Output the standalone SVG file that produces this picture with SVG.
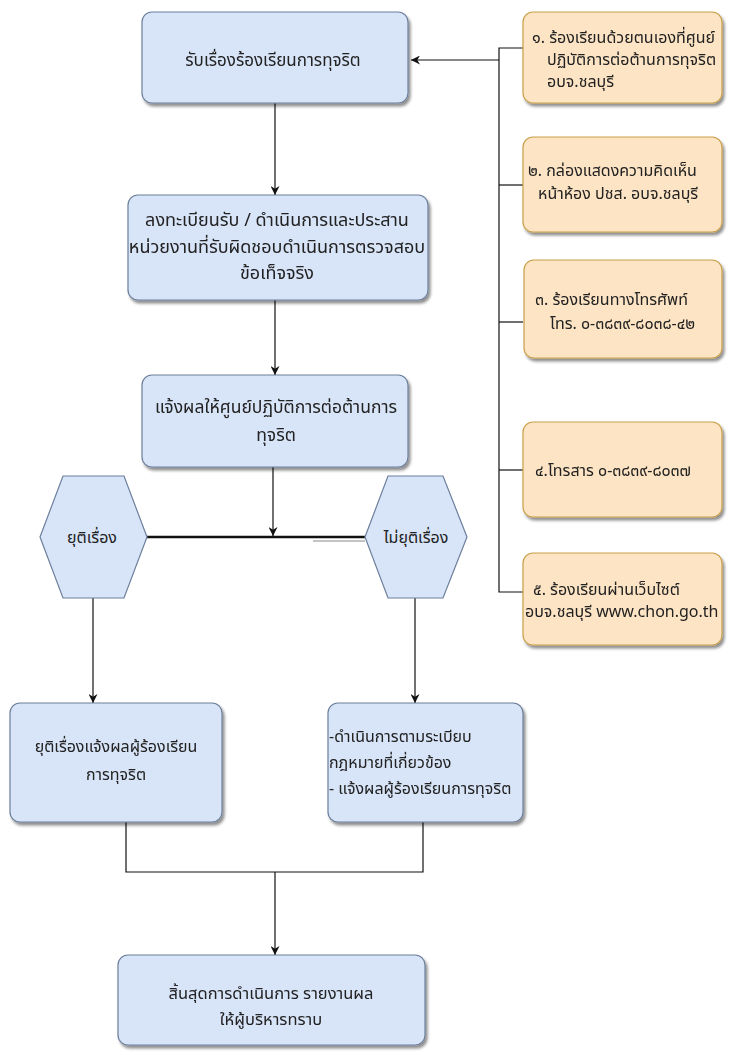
<svg xmlns="http://www.w3.org/2000/svg" width="731" height="1055" viewBox="0 0 731 1055">
<style>
.b{fill:#d8e5f8;stroke:#6c7f9c;stroke-width:1.2}
.o{fill:#fde4c4;stroke:#c9a04a;stroke-width:1.2}
.t{font-family:"Noto Sans Thai","Tahoma","Loma","Garuda","DejaVu Sans",sans-serif;font-size:16px;fill:#222}
.c{stroke:#111;stroke-width:1.2;fill:none}
</style>
<defs>
<filter id="sh" x="-10%" y="-10%" width="125%" height="130%">
<feGaussianBlur in="SourceAlpha" stdDeviation="1.5"/>
<feOffset dx="2" dy="3" result="o"/>
<feComponentTransfer><feFuncA type="linear" slope="0.45"/></feComponentTransfer>
<feMerge><feMergeNode/><feMergeNode in="SourceGraphic"/></feMerge>
</filter>
<marker id="ar" viewBox="0 0 10 10" refX="10" refY="5" markerWidth="9" markerHeight="9" orient="auto" markerUnits="userSpaceOnUse">
<path d="M0,0 L10,5 L0,10 L3,5 z" fill="#111"/>
</marker>
</defs>
<rect width="731" height="1055" fill="#fff"/>
<g id="connectors">
<path class="c" d="M499,60 L411,60" marker-end="url(#ar)"/>
<path class="c" d="M523,48 L499,48 L499,592 L523,592"/>
<path class="c" d="M499,185 L523,185"/>
<path class="c" d="M499,322 L523,322"/>
<path class="c" d="M499,470 L523,470"/>
<path class="c" d="M275,103 L275,195" marker-end="url(#ar)"/>
<path class="c" d="M275,300 L275,375" marker-end="url(#ar)"/>
<path class="c" d="M273,467 L273,536" marker-end="url(#ar)"/>
<path d="M147,537 L365,537" stroke="#111" stroke-width="2.5"/>
<path d="M313,541 L365,541" stroke="#888" stroke-width="1"/>
<path class="c" d="M93,598 L93,703" marker-end="url(#ar)"/>
<path class="c" d="M415,598 L415,703" marker-end="url(#ar)"/>
<path class="c" d="M126,822 L126,872 L423,872 L423,822"/>
<path class="c" d="M275,872 L275,955" marker-end="url(#ar)"/>
</g>
<g id="n1" filter="url(#sh)">
<rect class="b" x="142" y="12" width="266" height="91" rx="10"/>
<text class="t" x="273" y="66" text-anchor="middle" style="font-size:17px">รับเรื่องร้องเรียนการทุจริต</text>
</g>
<g id="n2" filter="url(#sh)">
<rect class="b" x="128" y="195" width="300" height="105" rx="10"/>
<text class="t" text-anchor="middle" style="font-size:18px"><tspan x="277" y="226">ลงทะเบียนรับ / ดำเนินการและประสาน</tspan><tspan x="277" y="253">หน่วยงานที่รับผิดชอบดำเนินการตรวจสอบ</tspan><tspan x="277" y="279">ข้อเท็จจริง</tspan></text>
</g>
<g id="n3" filter="url(#sh)">
<rect class="b" x="142" y="375" width="266" height="92" rx="10"/>
<text class="t" text-anchor="middle" style="font-size:17.5px"><tspan x="276" y="413">แจ้งผลให้ศูนย์ปฏิบัติการต่อต้านการ</tspan><tspan x="276" y="441">ทุจริต</tspan></text>
</g>
<g id="h1">
<polygon class="b" points="40,537 63,476 124,476 147,537 124,598 63,598"/>
<text class="t" x="92" y="543" text-anchor="middle">ยุติเรื่อง</text>
</g>
<g id="h2">
<polygon class="b" points="365,537 388,476 443,476 467,537 443,598 388,598"/>
<text class="t" x="416" y="543" text-anchor="middle">ไม่ยุติเรื่อง</text>
</g>
<g id="n4" filter="url(#sh)">
<rect class="b" x="10" y="703" width="212" height="119" rx="10"/>
<text class="t" text-anchor="middle"><tspan x="116" y="752">ยุติเรื่องแจ้งผลผู้ร้องเรียน</tspan><tspan x="116" y="780">การทุจริต</tspan></text>
</g>
<g id="n5" filter="url(#sh)">
<rect class="b" x="328" y="703" width="195" height="119" rx="10"/>
<text class="t"><tspan x="329" y="742">-ดำเนินการตามระเบียบ</tspan><tspan x="329" y="768">กฎหมายที่เกี่ยวข้อง</tspan><tspan x="329" y="794">- แจ้งผลผู้ร้องเรียนการทุจริต</tspan></text>
</g>
<g id="n6" filter="url(#sh)">
<rect class="b" x="118" y="955" width="307" height="90" rx="10"/>
<text class="t" text-anchor="middle" style="font-size:16.5px"><tspan x="271" y="999">สิ้นสุดการดำเนินการ รายงานผล</tspan><tspan x="271" y="1025">ให้ผู้บริหารทราบ</tspan></text>
</g>
<g id="s1" filter="url(#sh)">
<rect class="o" x="523" y="12" width="199" height="91" rx="10"/>
<text class="t"><tspan x="532" y="43">๑. ร้องเรียนด้วยตนเองที่ศูนย์</tspan><tspan x="547" y="65">ปฏิบัติการต่อต้านการทุจริต</tspan><tspan x="547" y="87">อบจ.ชลบุรี</tspan></text>
</g>
<g id="s2" filter="url(#sh)">
<rect class="o" x="523" y="137" width="199" height="95" rx="10"/>
<text class="t"><tspan x="528" y="176">๒. กล่องแสดงความคิดเห็น</tspan><tspan x="538" y="199">หน้าห้อง ปชส. อบจ.ชลบุรี</tspan></text>
</g>
<g id="s3" filter="url(#sh)">
<rect class="o" x="524" y="260" width="198" height="98" rx="10"/>
<text class="t"><tspan x="535" y="305">๓. ร้องเรียนทางโทรศัพท์</tspan><tspan x="550" y="329">โทร. ๐-๓๘๓๙-๘๐๓๘-๔๒</tspan></text>
</g>
<g id="s4" filter="url(#sh)">
<rect class="o" x="523" y="422" width="199" height="95" rx="10"/>
<text class="t" x="535" y="476">๔.โทรสาร ๐-๓๘๓๙-๘๐๓๗</text>
</g>
<g id="s5" filter="url(#sh)">
<rect class="o" x="523" y="553" width="199" height="92" rx="10"/>
<text class="t"><tspan x="533" y="595"> ๕. ร้องเรียนผ่านเว็บไซต์</tspan><tspan x="525" y="617">อบจ.ชลบุรี www.chon.go.th</tspan></text>
</g>
</svg>
